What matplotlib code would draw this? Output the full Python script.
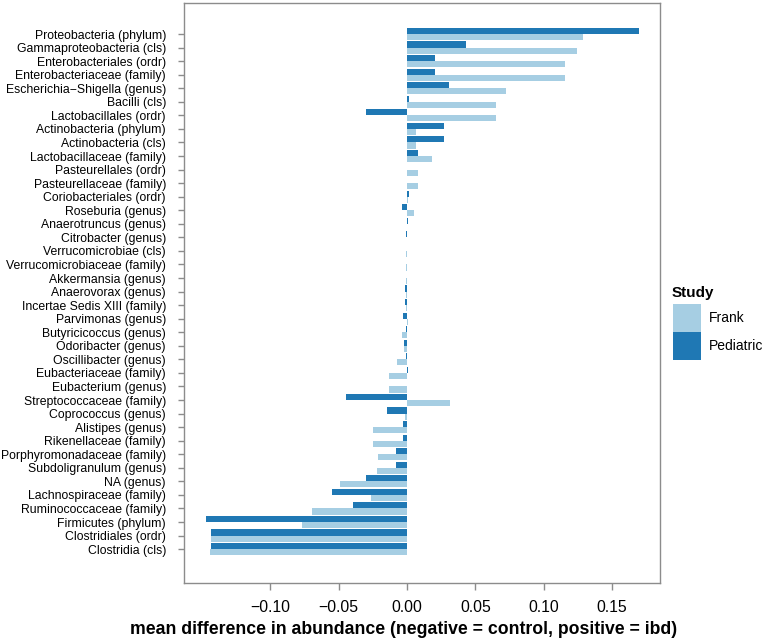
import matplotlib
matplotlib.use("Agg")
import matplotlib.pyplot as plt
import numpy as np
from matplotlib.patches import Rectangle

plt.rcParams['font.family'] = ['Liberation Sans', 'DejaVu Sans']

categories = [
    "Proteobacteria (phylum)", "Gammaproteobacteria (cls)", "Enterobacteriales (ordr)",
    "Enterobacteriaceae (family)", "Escherichia\u2212Shigella (genus)", "Bacilli (cls)",
    "Lactobacillales (ordr)", "Actinobacteria (phylum)", "Actinobacteria (cls)",
    "Lactobacillaceae (family)", "Pasteurellales (ordr)", "Pasteurellaceae (family)",
    "Coriobacteriales (ordr)", "Roseburia (genus)", "Anaerotruncus (genus)",
    "Citrobacter (genus)", "Verrucomicrobiae (cls)", "Verrucomicrobiaceae (family)",
    "Akkermansia (genus)", "Anaerovorax (genus)", "Incertae Sedis XIII (family)",
    "Parvimonas (genus)", "Butyricicoccus (genus)", "Odoribacter (genus)",
    "Oscillibacter (genus)", "Eubacteriaceae (family)", "Eubacterium (genus)",
    "Streptococcaceae (family)", "Coprococcus (genus)", "Alistipes (genus)",
    "Rikenellaceae (family)", "Porphyromonadaceae (family)", "Subdoligranulum (genus)",
    "NA (genus)", "Lachnospiraceae (family)", "Ruminococcaceae (family)",
    "Firmicutes (phylum)", "Clostridiales (ordr)", "Clostridia (cls)",
]

pediatric = [
    0.1696, 0.0431, 0.0207, 0.0207, 0.0310, 0.0017, -0.0300, 0.0270, 0.0270, 0.0083,
    0.0, 0.0, 0.0012, -0.0034, 0.0006, -0.0008, 0.0, 0.0, 0.0, -0.0012,
    -0.0012, -0.0030, -0.0010, -0.0022, -0.0007, 0.0007, 0.0002, -0.0446, -0.0144, -0.0027,
    -0.0027, -0.0083, -0.0083, -0.0302, -0.0546, -0.0397, -0.1470, -0.1430, -0.1435,
]

frank = [
    0.1284, 0.1240, 0.1155, 0.1155, 0.0724, 0.0650, 0.0650, 0.0066, 0.0066, 0.0180,
    0.0078, 0.0078, 0.0005, 0.0049, 0.0003, 0.0003, -0.0008, -0.0008, -0.0008, -0.0005,
    -0.0005, 0.0010, -0.0034, -0.0020, -0.0070, -0.0134, -0.0130, 0.0312, -0.0017, -0.0246,
    -0.0249, -0.0210, -0.0222, -0.0487, -0.0260, -0.0692, -0.0765, -0.1430, -0.1440,
]

study_labels = ["Frank", "Pediatric"]
colors = {"Frank": "#a6cee3", "Pediatric": "#1f78b4"}
xticks = [-0.10, -0.05, 0.00, 0.05, 0.10, 0.15]

W, H = 769, 643
fig = plt.figure(figsize=(W / 100, H / 100), dpi=100)
ax = fig.add_axes([184 / W, 1 - 583 / H, (660 - 184) / W, (583 - 3) / H])

n = len(categories)
pos = np.arange(n)[::-1].astype(float)
bh = 0.45
ax.barh(pos + bh / 2, pediatric, height=bh, color=colors["Pediatric"], linewidth=0)
ax.barh(pos - bh / 2, frank, height=bh, color=colors["Frank"], linewidth=0)

ax.set_xlim(-0.163, 0.185)
ax.set_ylim(-2.5, n - 1 + 2.29)
ax.set_yticks(pos)
ax.set_yticklabels(categories, fontsize=8.8, color="black")
ax.set_xticks(xticks)
ax.set_xticklabels([f"{t:.2f}".replace("-", "\u2212") for t in xticks], fontsize=11.3, color="black")

for s in ax.spines.values():
    s.set_color("#8c8c8c")
    s.set_linewidth(1.0)
ax.tick_params(axis="y", length=4.5, width=1, color="#8c8c8c", pad=8.5)
ax.tick_params(axis="x", length=5, width=1, color="#8c8c8c", pad=7)

fig.text(404 / W, 1 - 629 / H, "mean difference in abundance (negative = control, positive = ibd)",
         ha="center", va="center", fontsize=12.7, fontweight="bold")

# legend
fig.text(672 / W, 1 - 293 / H, "Study", ha="left", va="center", fontsize=11, fontweight="bold")
key_tops = [304, 332]
for lab, top in zip(study_labels, key_tops):
    fig.patches.append(Rectangle((673 / W, 1 - (top + 28) / H), 28 / W, 28 / H,
                                 transform=fig.transFigure, facecolor=colors[lab],
                                 edgecolor="none"))
    fig.text(709 / W, 1 - (top + 14) / H, lab, ha="left", va="center", fontsize=10,
             color="black")

fig.savefig("out.png", dpi=100)
